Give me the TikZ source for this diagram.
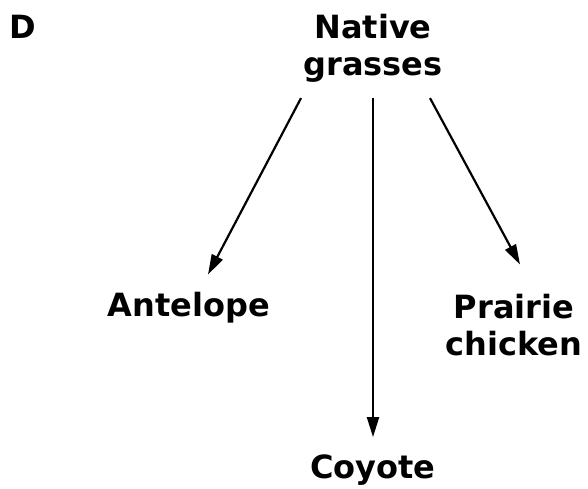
\documentclass[tikz,border=0pt]{standalone}
\usepackage{fontspec}
\setmainfont{DejaVu Sans}
\usetikzlibrary{arrows.meta}
\tikzset{
  lbl/.style={font=\fontsize{32}{37}\selectfont\bfseries, inner sep=0pt, align=center},
  feeds/.style={line width=2.2pt, -{Triangle[length=20pt,width=12pt]}}
}
\begin{document}
\begin{tikzpicture}[x=1pt,y=-1pt]
  \useasboundingbox (0,0) rectangle (588,489);
  \node[lbl, anchor=base west] (tag) at (9,39) {D};
  \node[lbl, anchor=base] (grass) at (373,76) {Native\\grasses};
  \node[lbl, anchor=base] (ante) at (189,316) {Antelope};
  \node[lbl, anchor=base] (prair) at (514,355) {Prairie\\chicken};
  \node[lbl, anchor=base] (coy) at (373,478) {Coyote};
  % food web arrows
  \draw[feeds] ([shift={(-72,15)}]grass.south) -- ([shift={(19,-17)}]ante.north);
  \draw[feeds] ([shift={(0,15)}]grass.south) -- ([shift={(0,-17)}]coy.north);
  \draw[feeds] ([shift={(57,15)}]grass.south) -- ([shift={(6,-29)}]prair.north);
\end{tikzpicture}
\end{document}
